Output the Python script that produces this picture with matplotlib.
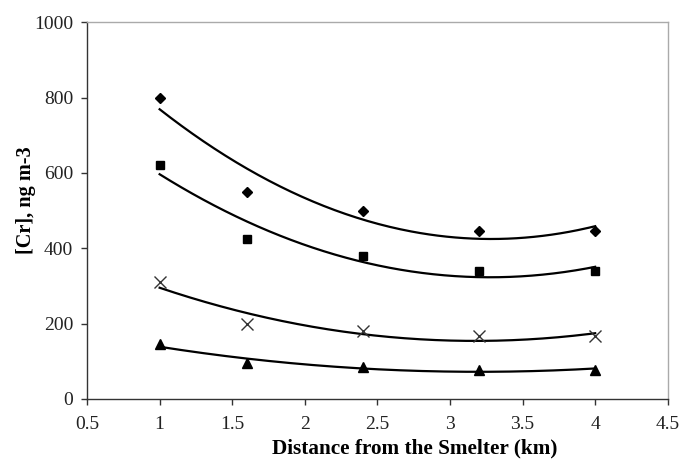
import numpy as np
import matplotlib
matplotlib.use("Agg")
import matplotlib.pyplot as plt

plt.rcParams['font.family'] = ['Liberation Serif', 'DejaVu Serif']

distance = [1.0, 1.6, 2.4, 3.2, 4.0]
series_diamond = [800, 550, 500, 445, 445]
series_square = [620, 425, 380, 340, 340]
series_cross = [310, 200, 180, 167, 167]
series_triangle = [145, 95, 85, 77, 78]

fig = plt.figure(figsize=(6.8, 4.61), dpi=100)
ax = fig.add_axes([0.128, 0.1345, 0.854, 0.8175])

styles = [
    (series_diamond, dict(marker='D', markersize=5.5, color='black', linestyle='none')),
    (series_square, dict(marker='s', markersize=6, color='black', linestyle='none')),
    (series_cross, dict(marker='x', markersize=8, color='#333333', markeredgewidth=1.0, linestyle='none')),
    (series_triangle, dict(marker='^', markersize=7, color='black', linestyle='none')),
]

xs = np.linspace(min(distance), max(distance), 200)
for vals, st in styles:
    ax.plot(distance, vals, **st, zorder=3)
    coef = np.polyfit(distance, vals, 2)
    ax.plot(xs, np.polyval(coef, xs), color='black', linewidth=1.6, zorder=2)

ax.set_xlim(0.5, 4.5)
ax.set_ylim(0, 1000)
ax.set_xticks([0.5, 1, 1.5, 2, 2.5, 3, 3.5, 4, 4.5])
ax.set_xticklabels(['0.5', '1', '1.5', '2', '2.5', '3', '3.5', '4', '4.5'])
ax.set_yticks([0, 200, 400, 600, 800, 1000])

for s in ['left', 'bottom']:
    ax.spines[s].set_color('#333333')
    ax.spines[s].set_linewidth(1.0)
for s in ['top', 'right']:
    ax.spines[s].set_color('#aaaaaa')
    ax.spines[s].set_linewidth(1.0)

ax.tick_params(axis='both', direction='out', length=4, width=1, colors='#333333',
               labelsize=14, labelcolor='#222222')
ax.tick_params(axis='y', pad=6)
ax.tick_params(axis='x', pad=8)

ax.set_xlabel('Distance from the Smelter (km)', fontsize=15.3, fontweight='bold')
ax.set_ylabel('[Cr], ng m-3', fontsize=14.6, fontweight='bold')
ax.xaxis.set_label_coords(0.565, -0.106)
ax.yaxis.set_label_coords(-0.088, 0.528)

fig.savefig('out.png', dpi=100)
